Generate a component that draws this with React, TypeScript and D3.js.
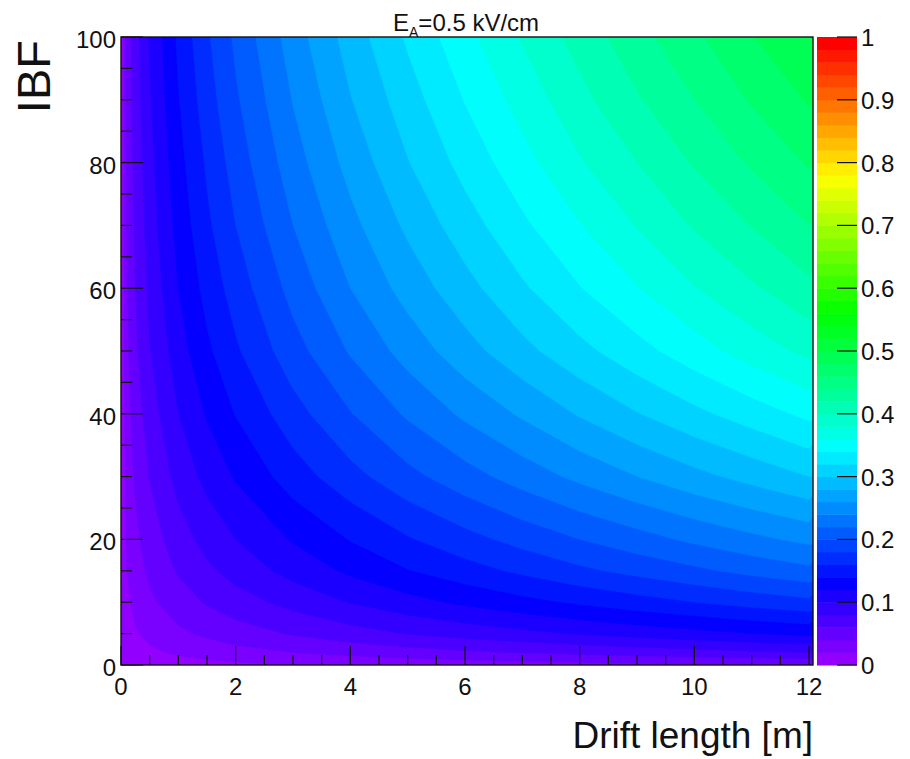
import React from "react";
import * as d3 from "d3";

// Grid axes of the map
const driftLength = [0, 0.1, 0.25, 0.5, 1, 1.5, 2, 3, 4, 5, 6, 7, 8, 9, 10, 11, 12];
const ibfValues = [0, 2, 5, 10, 15, 20, 30, 40, 50, 60, 70, 80, 90, 100];

// One row per IBF value, one column per drift length
const zIbf0 = [0, 0.004, 0.006, 0.008, 0.012, 0.014, 0.016, 0.02, 0.023, 0.026, 0.028, 0.031, 0.033, 0.035, 0.037, 0.038, 0.04];
const zIbf2 = [0, 0.007, 0.012, 0.016, 0.023, 0.028, 0.033, 0.04, 0.046, 0.052, 0.057, 0.061, 0.065, 0.069, 0.073, 0.077, 0.08];
const zIbf5 = [0, 0.011, 0.018, 0.026, 0.036, 0.044, 0.051, 0.062, 0.072, 0.081, 0.088, 0.095, 0.102, 0.108, 0.114, 0.12, 0.125];
const zIbf10 = [0, 0.016, 0.025, 0.036, 0.051, 0.062, 0.071, 0.087, 0.101, 0.113, 0.124, 0.134, 0.143, 0.152, 0.16, 0.168, 0.175];
const zIbf15 = [0, 0.02, 0.031, 0.044, 0.062, 0.076, 0.088, 0.107, 0.124, 0.139, 0.152, 0.164, 0.176, 0.186, 0.196, 0.206, 0.215];
const zIbf20 = [0, 0.022, 0.035, 0.05, 0.071, 0.087, 0.1, 0.122, 0.141, 0.158, 0.173, 0.187, 0.2, 0.212, 0.224, 0.235, 0.245];
const zIbf30 = [0, 0.027, 0.043, 0.061, 0.087, 0.106, 0.122, 0.15, 0.173, 0.194, 0.212, 0.229, 0.245, 0.26, 0.274, 0.287, 0.3];
const zIbf40 = [0, 0.031, 0.05, 0.07, 0.1, 0.122, 0.141, 0.172, 0.199, 0.223, 0.244, 0.263, 0.282, 0.299, 0.315, 0.33, 0.345];
const zIbf50 = [0, 0.035, 0.056, 0.079, 0.111, 0.136, 0.157, 0.192, 0.222, 0.248, 0.272, 0.294, 0.314, 0.333, 0.351, 0.369, 0.385];
const zIbf60 = [0, 0.038, 0.06, 0.085, 0.12, 0.147, 0.169, 0.207, 0.24, 0.268, 0.293, 0.317, 0.339, 0.359, 0.379, 0.397, 0.415];
const zIbf70 = [0, 0.04, 0.064, 0.09, 0.127, 0.156, 0.18, 0.22, 0.254, 0.284, 0.311, 0.336, 0.359, 0.381, 0.402, 0.421, 0.44];
const zIbf80 = [0, 0.042, 0.067, 0.094, 0.133, 0.163, 0.189, 0.231, 0.267, 0.299, 0.327, 0.353, 0.378, 0.4, 0.422, 0.443, 0.462];
const zIbf90 = [0, 0.044, 0.07, 0.098, 0.139, 0.171, 0.197, 0.241, 0.279, 0.311, 0.341, 0.368, 0.394, 0.418, 0.44, 0.462, 0.482];
const zIbf100 = [0, 0.046, 0.072, 0.102, 0.144, 0.177, 0.204, 0.25, 0.289, 0.323, 0.354, 0.382, 0.408, 0.433, 0.456, 0.479, 0.5];

const zRows = [zIbf0, zIbf2, zIbf5, zIbf10, zIbf15, zIbf20, zIbf30, zIbf40, zIbf50, zIbf60, zIbf70, zIbf80, zIbf90, zIbf100];

const xTicks = [0, 2, 4, 6, 8, 10, 12];
const yTicks = [0, 20, 40, 60, 80, 100];
const zTicks = [0, 0.1, 0.2, 0.3, 0.4, 0.5, 0.6, 0.7, 0.8, 0.9, 1];
const zTickLabels = ["0", "0.1", "0.2", "0.3", "0.4", "0.5", "0.6", "0.7", "0.8", "0.9", "1"];
const nContours = 50;

const W = 910;
const H = 759;
const frame = { left: 121, right: 813, top: 37, bottom: 665 };
const bar = { left: 817, right: 857 };
const FONT = "'Liberation Sans', Arial, Helvetica, sans-serif";

// Rainbow palette: violet -> red in HLS space
const bandColor = (i: number) => d3.hsl(280 - (i + 1) * (280 / nContours), 1, 0.5).formatHex();

export default function App() {
  const x = d3.scaleLinear().domain([0, 12.07]).range([frame.left, frame.right]);
  const y = d3.scaleLinear().domain([0, 100]).range([frame.bottom, frame.top]);
  const z = d3.scaleLinear().domain([0, 1]).range([frame.bottom, frame.top]);

  const n = driftLength.length;
  const m = ibfValues.length;
  const ix = d3.scaleLinear().domain(d3.range(n)).range(driftLength);
  const iy = d3.scaleLinear().domain(d3.range(m)).range(ibfValues);

  const thresholds = d3.range(nContours).map((i) => i / nContours);
  const contours = d3.contours().size([n, m]).thresholds(thresholds)(zRows.flat());

  const proj = d3.geoTransform({
    point(px: number, py: number) {
      (this as any).stream.point(x(ix(px - 0.5)), y(iy(py - 0.5)));
    },
  });
  const path = d3.geoPath(proj);

  const xMinor = d3.range(0, 12.001, 0.5);
  const yMinor = d3.range(0, 100.001, 5);

  return (
    <svg width={W} height={H} style={{ position: "absolute", left: 0, top: 0, background: "#fff" }} fontFamily={FONT}>
      <defs>
        <clipPath id="frameClip">
          <rect x={frame.left} y={frame.top} width={frame.right - frame.left} height={frame.bottom - frame.top} />
        </clipPath>
      </defs>
      <rect x={0} y={0} width={W} height={H} fill="#fff" />

      {/* filled contour bands */}
      <g clipPath="url(#frameClip)">
        {contours.map((c, i) => (
          <path key={i} d={path(c as any) || ""} fill={bandColor(i)} stroke={bandColor(i)} strokeWidth={0.4} />
        ))}
      </g>

      {/* y axis ticks */}
      {yMinor.map((v) => (
        <line key={"ym" + v} x1={frame.left} x2={frame.left + (v % 20 === 0 ? 22 : 11)} y1={y(v)} y2={y(v)} stroke="#111" strokeWidth={1.2} />
      ))}
      {yTicks.map((v) => (
        <text key={"yl" + v} x={116} y={y(v) + 11} textAnchor="end" fontSize={24} fill="#111">{v}</text>
      ))}

      {/* x axis ticks */}
      {xMinor.map((v) => (
        <line key={"xm" + v} x1={x(v)} x2={x(v)} y1={frame.bottom} y2={frame.bottom - (v % 2 === 0 ? 19 : 10)} stroke="#111" strokeWidth={1.2} />
      ))}
      {xTicks.map((v) => (
        <text key={"xl" + v} x={x(v)} y={695} textAnchor="middle" fontSize={24} fill="#111">{v}</text>
      ))}

      {/* frame */}
      <rect x={frame.left} y={frame.top} width={frame.right - frame.left} height={frame.bottom - frame.top} fill="none" stroke="#111" strokeWidth={1.4} />

      {/* colour scale */}
      {d3.range(nContours).map((i) => (
        <rect key={"b" + i} x={bar.left} width={bar.right - bar.left} y={z((i + 1) / nContours)} height={z(i / nContours) - z((i + 1) / nContours) + 0.5} fill={bandColor(i)} />
      ))}
      {zTicks.map((v, i) => (
        <g key={"z" + i}>
          <line x1={bar.right - 20} x2={bar.right} y1={z(v)} y2={z(v)} stroke="#111" strokeWidth={1.2} />
          <text x={861} y={z(v) + 9} fontSize={24} fill="#111">{zTickLabels[i]}</text>
        </g>
      ))}

      {/* titles */}
      <text x={393} y={31} fontSize={24} fill="#111">
        E<tspan fontSize={14} dy={6}>A</tspan><tspan dy={-6}>=0.5 kV/cm</tspan>
      </text>
      <text x={813} y={748} textAnchor="end" fontSize={37} fill="#111">Drift length [m]</text>
      <text transform="translate(50,40) rotate(-90)" textAnchor="end" fontSize={47} fill="#111">IBF</text>
    </svg>
  );
}
